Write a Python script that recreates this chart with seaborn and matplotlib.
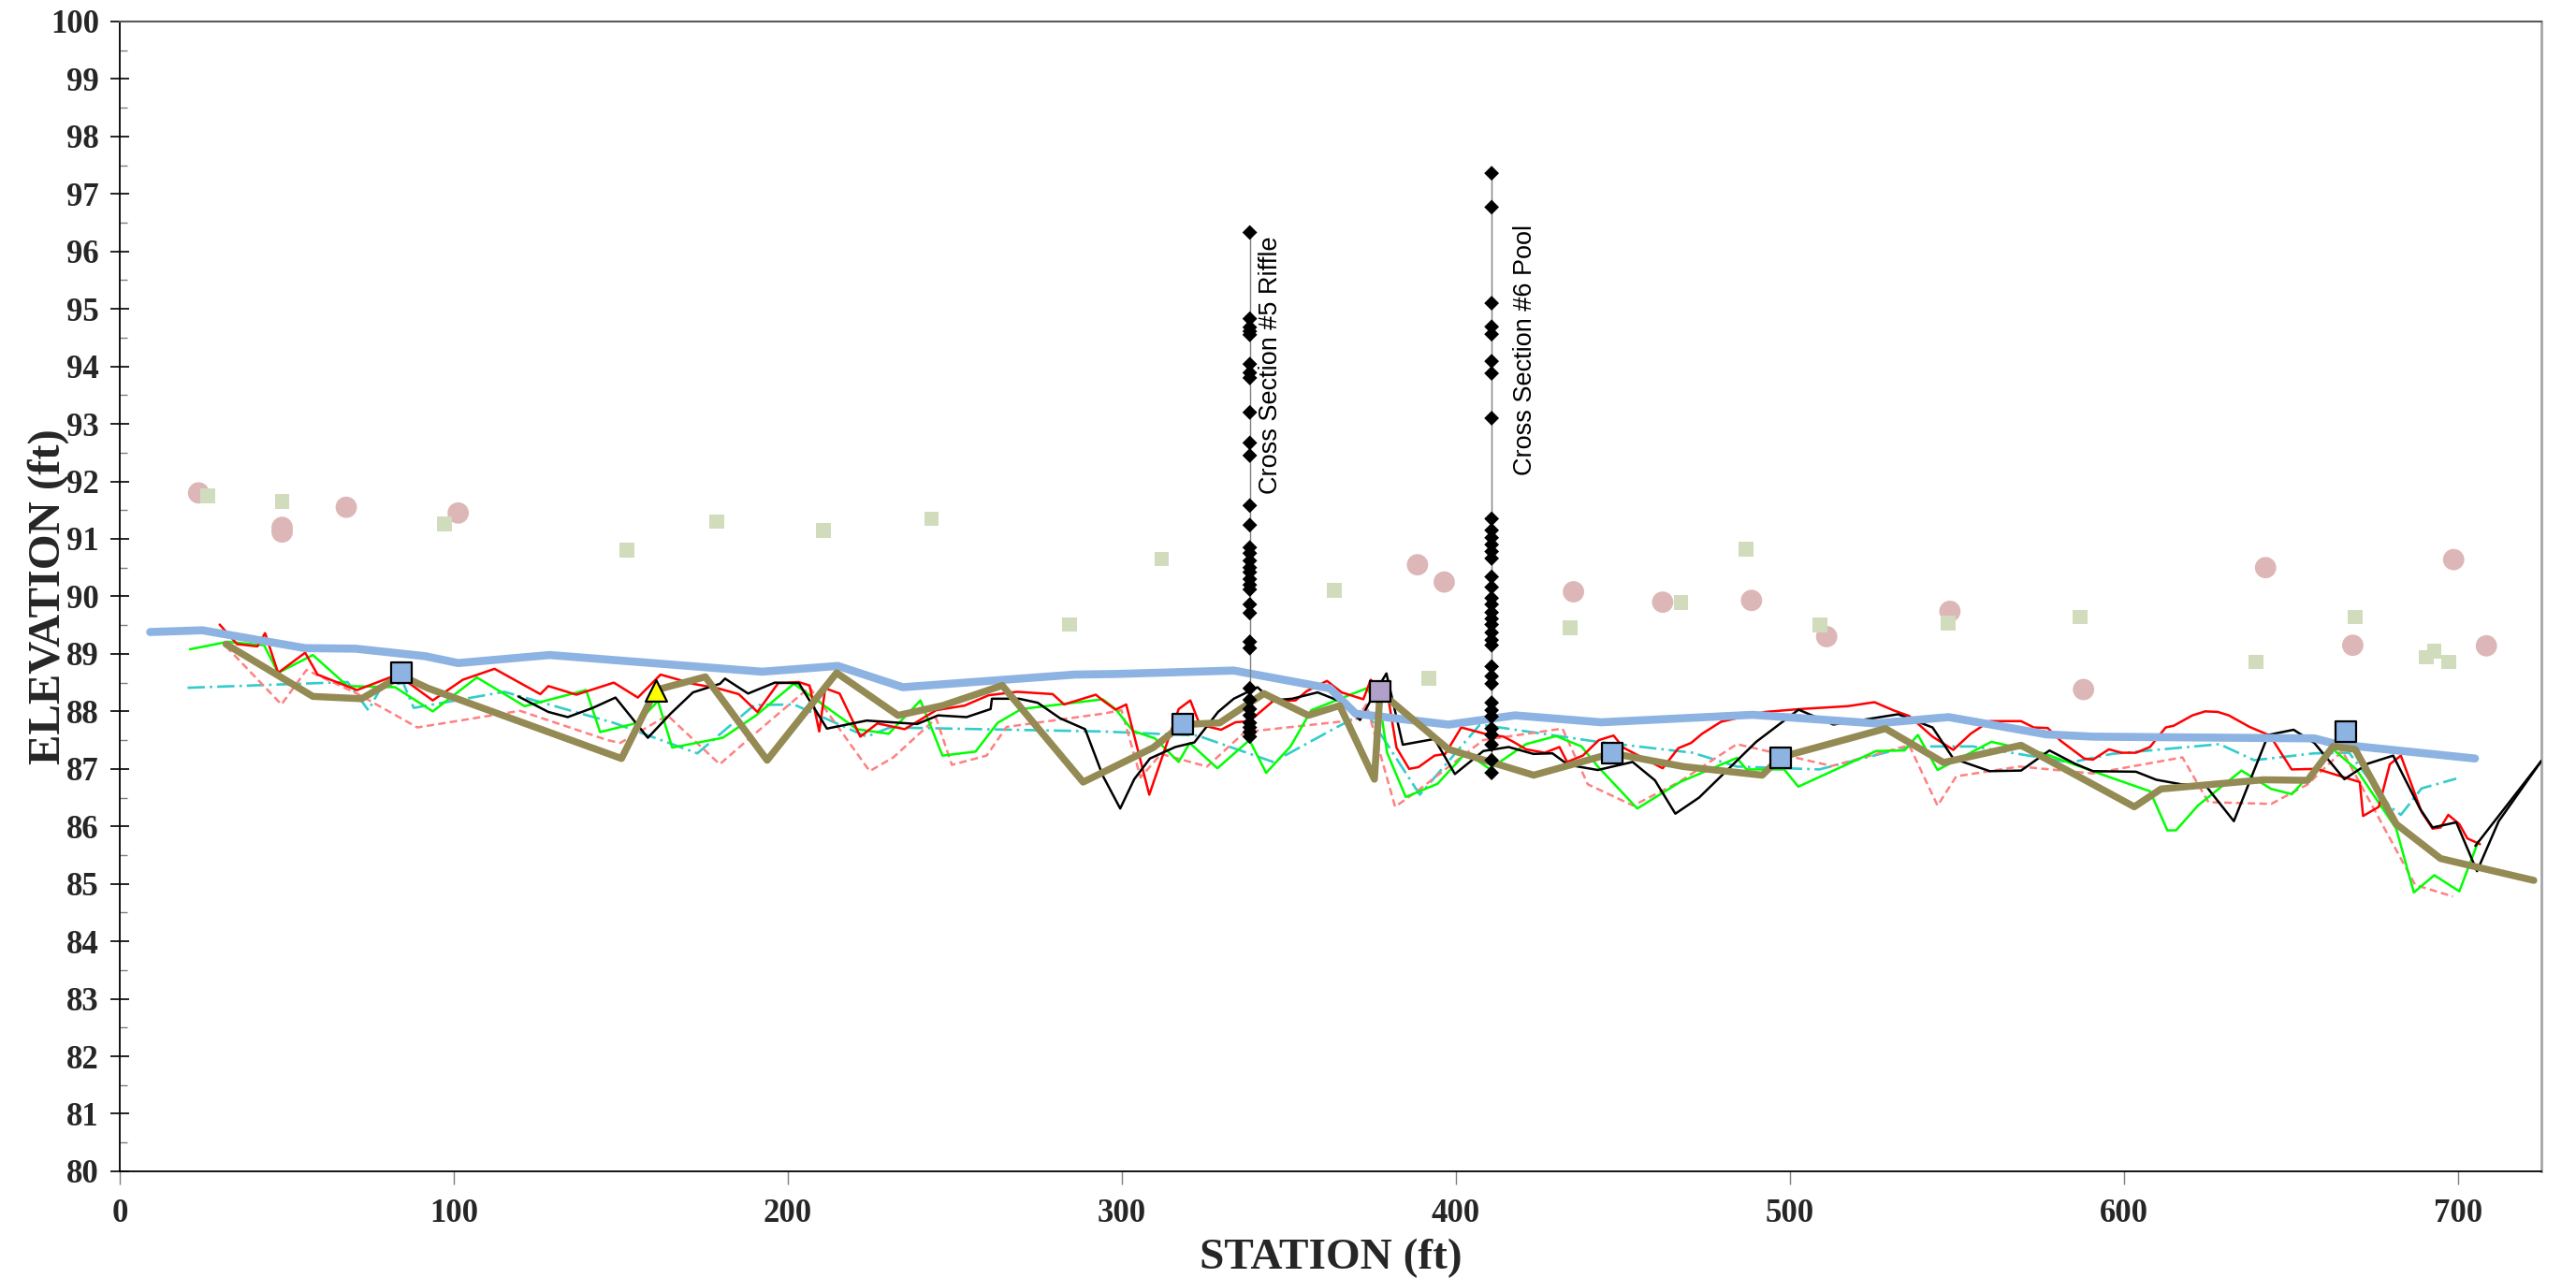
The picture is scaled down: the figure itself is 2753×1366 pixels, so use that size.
import numpy as np
import pandas as pd
import matplotlib
matplotlib.use("Agg")
import matplotlib.pyplot as plt
import seaborn as sns
from matplotlib.ticker import MultipleLocator

# ---------------- data ----------------
ws_x = [9.1, 24.7, 55.5, 70.6, 91.4, 101.3, 128.7, 192.3, 215.0, 234.4, 286.0, 298.0, 333.5,
        362.3, 370.0, 397.8, 417.7, 443.5, 488.8, 525.8, 547.5, 576.8, 590.7, 657.0, 663.6, 705.1]
ws_y = [89.38, 89.41, 89.10, 89.09, 88.96, 88.84, 88.98, 88.69, 88.79, 88.42, 88.64, 88.65, 88.71,
        88.40, 87.96, 87.77, 87.93, 87.81, 87.94, 87.79, 87.90, 87.60, 87.56, 87.53, 87.43, 87.18]

thal_x = [31.8, 57.8, 72.4, 84.2, 92.4, 150.2, 160.4, 175.3, 193.8, 214.6, 233.0, 246.3, 264.2,
          288.4, 309.4, 318.1, 329.3, 342.5, 355.8, 365.2, 375.6, 377.3, 397.8, 423.3, 446.8,
          468.1, 491.7, 497.1, 528.6, 546.0, 569.2, 603.1, 611.1, 641.8, 655.0, 662.6, 669.2,
          681.5, 694.8, 722.7]
thal_y = [89.17, 88.26, 88.22, 88.62, 88.40, 87.18, 88.37, 88.60, 87.15, 88.67, 87.93, 88.10, 88.45,
          86.77, 87.37, 87.77, 87.80, 88.31, 87.93, 88.10, 86.82, 88.34, 87.34, 86.89, 87.27,
          87.04, 86.89, 87.20, 87.70, 87.11, 87.41, 86.34, 86.65, 86.81, 86.80, 87.39, 87.34,
          86.04, 85.44, 85.06]

red_x = [29.9, 35.1, 41.2, 43.5, 47.4, 55.5, 59.2, 71.0, 80.9, 86.6,
         93.7, 102.7, 112.2, 125.9, 128.3, 136.7, 147.9, 155.1, 161.9, 171.6,
         179.1, 185.3, 190.9, 197.1, 203.2, 206.5, 209.4, 211.2, 215.5, 221.7,
         226.8, 235.0, 244.4, 252.9, 260.1, 268.6, 279.3, 282.7, 292.2, 294.3,
         298.1, 301.3, 308.2, 317.0, 320.5, 323.3, 329.7, 334.0, 338.2, 345.3,
         352.0, 355.3, 361.4, 365.8, 372.3, 374.5, 379.9, 382.2, 386.0, 388.8,
         393.6, 396.8, 401.6, 408.7, 414.3, 417.2, 421.0, 426.6, 431.0, 433.3,
         438.0, 442.8, 447.2, 450.1, 461.9, 466.6, 470.4, 473.7, 479.4, 492.6,
         503.0, 517.3, 525.3, 530.9, 535.7, 542.7, 548.9, 554.1, 559.8, 569.2,
         573.0, 577.2, 581.0, 588.1, 590.7, 595.5, 599.3, 603.6, 607.8, 612.5,
         614.9, 620.5, 624.3, 628.1, 631.4, 637.6, 643.7, 650.2, 657.7, 670.6,
         671.6, 676.3, 679.6, 682.9, 689.1, 692.4, 694.8, 697.1, 700.4, 702.8,
         706.6]
red_y = [89.51, 89.17, 89.13, 89.36, 88.67, 89.02, 88.64, 88.37, 88.59, 88.49,
         88.19, 88.55, 88.74, 88.30, 88.44, 88.29, 88.50, 88.24, 88.64, 88.48,
         88.40, 88.30, 87.99, 88.49, 88.51, 88.45, 87.65, 88.40, 88.31, 87.56,
         87.79, 87.69, 88.02, 88.10, 88.28, 88.34, 88.30, 88.12, 88.29, 88.19,
         88.03, 88.12, 86.55, 88.04, 88.19, 87.77, 87.68, 87.81, 87.83, 88.18,
         88.19, 88.35, 88.53, 88.33, 88.21, 88.55, 88.18, 87.37, 87.00, 87.03,
         87.23, 87.26, 87.72, 87.61, 87.56, 87.47, 87.34, 87.28, 87.38, 87.12,
         87.23, 87.50, 87.58, 87.37, 87.01, 87.36, 87.45, 87.61, 87.82, 87.99,
         88.04, 88.09, 88.16, 88.02, 87.92, 87.56, 87.33, 87.61, 87.83, 87.83,
         87.72, 87.71, 87.49, 87.18, 87.16, 87.34, 87.28, 87.28, 87.38, 87.72,
         87.75, 87.93, 88.00, 87.99, 87.93, 87.73, 87.58, 86.99, 87.00, 86.77,
         86.18, 86.34, 87.08, 87.23, 86.25, 85.96, 85.98, 86.20, 86.04, 85.79,
         85.69]

green_x = [21.0, 32.3, 43.2, 47.4, 57.8, 68.2, 82.4, 93.7, 106.9, 121.2,
           139.6, 143.8, 155.0, 161.1, 165.4, 180.5, 190.5, 201.8, 220.7, 230.2,
           239.7, 246.3, 256.2, 262.8, 269.9, 294.3, 298.1, 303.3, 309.9, 317.0,
           320.3, 328.6, 338.2, 343.2, 350.5, 356.7, 373.2, 377.4, 379.4, 385.0,
           394.5, 403.0, 410.1, 421.0, 430.0, 437.6, 442.5, 454.3, 467.1, 484.1,
           487.0, 498.3, 502.5, 525.8, 534.3, 538.3, 544.2, 560.3, 575.9, 594.5,
           607.8, 613.0, 615.6, 622.1, 635.2, 644.1, 650.3, 662.6, 669.6, 681.5,
           686.8, 692.9, 700.4, 706.1]
green_y = [89.08, 89.21, 89.15, 88.67, 88.98, 88.44, 88.42, 88.00, 88.59, 88.09,
           88.37, 87.64, 87.80, 88.18, 87.37, 87.54, 87.93, 88.48, 87.69, 87.61,
           88.19, 87.23, 87.30, 87.80, 88.04, 88.21, 88.04, 87.66, 87.53, 87.12,
           87.45, 87.01, 87.50, 86.93, 87.39, 88.02, 88.40, 88.07, 87.28, 86.51,
           86.74, 87.28, 87.00, 87.43, 87.57, 87.39, 87.04, 86.31, 86.77, 87.19,
           86.99, 86.99, 86.69, 87.31, 87.32, 87.59, 86.98, 87.47, 87.27, 86.88,
           86.61, 85.93, 85.93, 86.36, 86.97, 86.65, 86.56, 87.34, 86.99, 85.96,
           84.85, 85.15, 84.87, 85.74]

black_x = [119.3, 128.3, 134.1, 141.6, 148.4, 158.1, 164.9, 171.6, 179.7, 181.2,
           188.1, 196.1, 203.3, 211.7, 223.6, 238.7, 245.0, 253.5, 260.7, 261.1,
           269.2, 274.8, 281.5, 289.0, 294.3, 299.5, 303.7, 308.4, 316.0, 321.7,
           328.8, 333.5, 340.6, 344.9, 351.0, 358.6, 365.1, 371.3, 375.6, 379.2,
           384.1, 393.6, 399.7, 408.2, 415.8, 423.2, 428.9, 433.6, 442.5, 452.9,
           459.6, 465.7, 472.8, 480.4, 489.9, 502.6, 513.0, 532.4, 542.7, 548.9,
           559.8, 569.2, 577.7, 585.3, 590.7, 603.6, 609.7, 617.3, 624.3, 632.9,
           643.2, 650.8, 657.0, 666.0, 673.0, 680.6, 688.6, 692.4, 699.5, 705.7,
           712.2, 725.0]
black_y = [88.26, 87.99, 87.90, 88.06, 88.24, 87.54, 87.96, 88.33, 88.48, 88.57,
           88.31, 88.50, 88.49, 87.70, 87.84, 87.78, 87.93, 87.90, 88.04, 88.22,
           88.22, 88.15, 87.88, 87.69, 86.88, 86.31, 86.82, 87.18, 87.38, 87.46,
           87.99, 88.22, 88.42, 88.19, 88.22, 88.33, 88.18, 87.85, 88.31, 88.66,
           87.42, 87.52, 86.91, 87.31, 87.38, 87.26, 87.27, 87.07, 86.98, 87.12,
           86.80, 86.22, 86.50, 86.93, 87.47, 88.03, 87.77, 87.95, 87.72, 87.18,
           86.96, 86.97, 87.32, 87.09, 86.96, 86.95, 86.81, 86.73, 86.72, 86.09,
           87.59, 87.68, 87.45, 86.82, 87.09, 87.23, 86.31, 85.98, 86.07, 85.22,
           86.09, 87.14]
black2_x = [705.2, 725.0]
black2_y = [85.66, 87.14]

pink_x = [31.8, 48.4, 55.9, 71.0, 89.1, 119.8, 146.0, 149.8, 164.0, 179.6,
          188.5, 206.5, 224.5, 231.6, 244.4, 249.1, 259.5, 265.5, 294.3, 299.9,
          305.6, 311.7, 325.5, 336.8, 370.0, 373.2, 381.8, 388.8, 399.7, 408.2,
          431.9, 439.5, 453.1, 466.8, 484.1, 512.5, 535.7, 544.2, 549.8, 568.7,
          590.7, 617.5, 625.3, 644.1, 655.0, 665.4, 687.2, 698.5]
pink_y = [89.13, 88.12, 88.72, 88.31, 87.72, 88.01, 87.50, 87.45, 87.93, 87.08,
          87.53, 88.42, 86.96, 87.20, 87.88, 87.07, 87.23, 87.73, 87.96, 88.02,
          86.85, 87.26, 87.04, 87.64, 87.85, 88.12, 86.34, 86.63, 87.12, 87.50,
          87.70, 86.73, 86.36, 86.77, 87.43, 87.05, 87.41, 86.36, 86.87, 87.04,
          86.92, 87.20, 86.42, 86.39, 86.73, 87.31, 84.98, 84.78]

cyan_x = [20.3, 68.2, 74.4, 78.1, 84.8, 88.0, 115.1, 147.9, 172.9, 190.0,
          201.8, 223.6, 230.6, 294.3, 322.6, 345.3, 364.2, 373.2, 389.2, 407.2,
          442.5, 470.9, 484.1, 508.8, 535.9, 554.8, 584.0, 596.4, 628.6, 639.0,
          657.0, 667.4, 679.7, 682.9, 689.1, 699.5]
cyan_y = [88.41, 88.51, 88.02, 88.40, 88.50, 88.06, 88.34, 87.80, 87.27, 88.11,
          88.12, 87.56, 87.72, 87.65, 87.58, 87.12, 87.72, 87.99, 86.55, 87.77,
          87.47, 87.28, 87.04, 86.99, 87.39, 87.39, 87.11, 87.26, 87.43, 87.15,
          87.27, 87.28, 86.34, 86.20, 86.66, 86.83]

feat_sq_x = [84.2, 318.1, 446.8, 497.1, 666.4]
feat_sq_y = [88.68, 87.77, 87.27, 87.20, 87.65]
feat_pur_x = [377.3]
feat_pur_y = [88.34]
feat_tri_x = [160.4]
feat_tri_y = [88.37]

circ_x = [23.6, 48.6, 48.6, 67.8, 101.3, 388.5, 396.5, 435.2, 461.9, 488.5, 511.0,
          547.9, 587.9, 642.4, 668.5, 698.7, 708.5]
circ_y = [91.80, 91.20, 91.12, 91.55, 91.45, 90.55, 90.25, 90.08, 89.90, 89.93, 89.30,
          89.74, 88.38, 90.50, 89.15, 90.64, 89.14]

sq_x = [26.3, 48.6, 97.2, 151.9, 178.8, 210.6, 243.0, 284.3, 311.9, 363.6, 391.8,
        434.2, 467.4, 486.8, 508.9, 547.3, 586.9, 639.6, 669.3, 690.4, 692.9, 697.2]
sq_y = [91.75, 91.65, 91.26, 90.80, 91.30, 91.15, 91.35, 89.51, 90.65, 90.10, 88.57,
        89.46, 89.90, 90.82, 89.50, 89.54, 89.64, 88.86, 89.64, 88.94, 89.05, 88.86]

xs5_station = 338.3
xs5_elev = [96.33, 94.83, 94.68, 94.61, 94.55, 94.04, 93.89, 93.80, 93.20, 92.67, 92.45,
            91.58, 91.24, 90.85, 90.75, 90.62, 90.50, 90.42, 90.30, 90.20, 90.12, 89.86,
            89.71, 89.21, 89.10, 88.40, 88.20, 88.04, 87.93, 87.80, 87.72, 87.64, 87.56]
xs6_station = 410.7
xs6_elev = [97.36, 96.77, 95.10, 94.69, 94.56, 94.09, 93.88, 93.10, 91.35, 91.15, 91.02,
            90.90, 90.78, 90.66, 90.34, 90.16, 89.97, 89.86, 89.72, 89.61, 89.51, 89.37,
            89.24, 89.15, 88.78, 88.61, 88.48, 88.15, 88.02, 87.91, 87.70, 87.59, 87.42,
            87.15, 86.93]

x_ticks = [0, 100, 200, 300, 400, 500, 600, 700]
y_ticks = list(range(80, 101))

# ---------------- plot ----------------
sns.set_theme(style="white")
plt.rcParams["font.family"] = ["Liberation Serif", "DejaVu Serif"]

fig = plt.figure(figsize=(27.53, 13.66), dpi=100)
ax = fig.add_axes([0.0465, 0.0835, 0.9401, 0.8997])


def line(x, y, **kw):
    df = pd.DataFrame({"x": x, "y": y})
    sns.lineplot(data=df, x="x", y="y", sort=False, estimator=None, ax=ax,
                 legend=False, **kw)


def pts(x, y, **kw):
    df = pd.DataFrame({"x": x, "y": y})
    sns.scatterplot(data=df, x="x", y="y", ax=ax, legend=False, **kw)


# scatter (bank / terrace points)
pts(circ_x, circ_y, marker="o", s=270, color="#DDB7B7", edgecolor="none", zorder=2)
pts(sq_x, sq_y, marker="s", s=130, color="#D0DCBC", edgecolor="none", zorder=2)

# thin profile lines
line(cyan_x, cyan_y, color="#33CCCC", linewidth=1.9, linestyle=(0, (7, 2, 1, 2)), zorder=3)
line(pink_x, pink_y, color="#FF8080", linewidth=1.8, linestyle=(0, (3.2, 1.8)), zorder=3)
line(green_x, green_y, color="#00FF00", linewidth=1.8, zorder=3)
line(red_x, red_y, color="#FF0000", linewidth=1.8, zorder=3)
line(black_x, black_y, color="black", linewidth=1.8, zorder=3)
line(black2_x, black2_y, color="black", linewidth=1.8, zorder=3)

# water surface and thalweg
line(ws_x, ws_y, color="#8DB3E2", linewidth=6.2, zorder=4, solid_capstyle="round")
line(thal_x, thal_y, color="#948A54", linewidth=5.4, zorder=5)

# features
pts(feat_sq_x, feat_sq_y, marker="s", s=230, color="#8DB3E2", edgecolor="black",
    linewidth=1.6, zorder=6)
pts(feat_pur_x, feat_pur_y, marker="s", s=230, color="#B1A0C7", edgecolor="black",
    linewidth=1.6, zorder=6)
pts(feat_tri_x, feat_tri_y, marker="^", s=270, color="#FFFF00", edgecolor="black",
    linewidth=1.6, zorder=6)

# cross sections
for st, el in [(xs5_station, xs5_elev), (xs6_station, xs6_elev)]:
    line([st] * len(el), el, color="#7F7F7F", linewidth=1.0, zorder=6)
    pts([st] * len(el), el, marker="D", s=65, color="black", edgecolor="none", zorder=7)

ax.text(344.6, 91.78, "Cross Section #5 Riffle", rotation=90, ha="center", va="bottom",
        fontsize=19.5, family=["Liberation Sans", "DejaVu Sans"], color="black")
ax.text(420.7, 92.10, "Cross Section #6 Pool", rotation=90, ha="center", va="bottom",
        fontsize=19.5, family=["Liberation Sans", "DejaVu Sans"], color="black")

# axes
ax.set_xlim(0, 725)
ax.set_ylim(80, 100)
ax.set_xticks(x_ticks)
ax.set_yticks(y_ticks)
ax.yaxis.set_minor_locator(MultipleLocator(0.5))
ax.tick_params(axis="y", which="major", direction="inout", length=14, width=1.2,
               color="black", labelsize=25, pad=9, left=True)
ax.tick_params(axis="y", which="minor", direction="in", length=6, width=1.0,
               color="#7F7F7F", left=True)
ax.tick_params(axis="x", which="major", direction="out", length=10, width=1.0,
               color="#7F7F7F", labelsize=25, pad=11, bottom=True)
for lab in ax.get_xticklabels() + ax.get_yticklabels():
    lab.set_fontweight("bold")

ax.set_xlabel("STATION (ft)", fontsize=34, fontweight="bold")
ax.set_ylabel("ELEVATION (ft)", fontsize=35, fontweight="bold")
ax.xaxis.set_label_coords(0.5, -0.058)
ax.yaxis.set_label_coords(-0.021, 0.5)

for side in ["left", "bottom"]:
    ax.spines[side].set_color("black")
    ax.spines[side].set_linewidth(1.3)
ax.spines["top"].set_color("#595959")
ax.spines["top"].set_linewidth(1.5)
ax.spines["right"].set_color("#A6A6A6")
ax.spines["right"].set_linewidth(2.0)
ax.grid(False)
ax.set_facecolor("white")

fig.savefig("out.png", dpi=100, facecolor="white")
